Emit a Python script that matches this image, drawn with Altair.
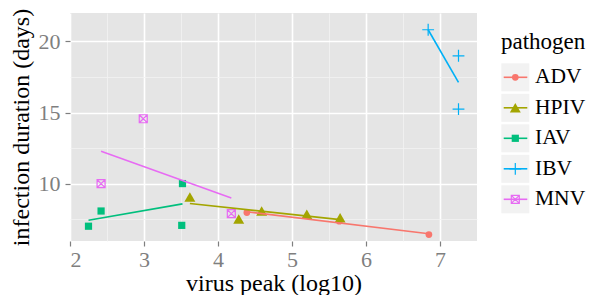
import altair as alt
import pandas as pd

# ---- data ----
pathogens = ["ADV", "HPIV", "IAV", "IBV", "MNV"]
colors = ["#F8766D", "#A3A500", "#00BF7D", "#00B0F6", "#E76BF3"]

adv_x = [4.39, 5.64, 6.85]
adv_y = [7.96, 7.35, 6.41]
hpiv_x = [3.62, 4.28, 4.59, 5.20, 5.65]
hpiv_y = [9.06, 7.50, 8.07, 7.84, 7.60]
iav_x = [2.25, 2.42, 3.51, 3.52]
iav_y = [7.00, 8.07, 7.06, 10.00]
ibv_x = [6.84, 7.25, 7.25]
ibv_y = [20.82, 18.99, 15.24]
mnv_x = [2.42, 2.99, 4.18]
mnv_y = [10.00, 14.56, 7.89]

x_ticks = [2, 2.5, 3, 3.5, 4, 4.5, 5, 5.5, 6, 6.5, 7]
y_ticks = [7.5, 10, 12.5, 15, 17.5, 20]
x_title = "virus peak (log10)"
y_title = "infection duration (days)"
legend_title = "pathogen"

series = [(adv_x, adv_y), (hpiv_x, hpiv_y), (iav_x, iav_y), (ibv_x, ibv_y), (mnv_x, mnv_y)]
rows = []
for name, (xs, ys) in zip(pathogens, series):
    for xv, yv in zip(xs, ys):
        rows.append({"pathogen": name, "peak": xv, "duration": yv})
df = pd.DataFrame(rows)

FONT = "Liberation Serif"
plus_path = "M-1,0H1M0,-1V1"
boxx_path = "M-1,-1H1V1H-1ZM-1,-1L1,1M-1,1L1,-1"
# marker style per pathogen: (shape, size, filled)
styles = [
    ("circle", 45, True),
    ("triangle-up", 120, True),
    ("square", 52, True),
    (plus_path, 140, False),
    (boxx_path, 64, False),
]

color_enc = alt.Color("pathogen:N", scale=alt.Scale(domain=pathogens, range=colors), legend=None)

axis_common = dict(
    labelFont=FONT, titleFont=FONT, labelFontSize=22, titleFontSize=24,
    labelColor="#7F7F7F", tickColor="#7F7F7F", tickSize=5, tickWidth=1.2,
    titleColor="black", titleFontWeight="normal", domain=False,
)

x_enc = alt.X(
    "peak:Q",
    title=x_title,
    scale=alt.Scale(domain=[2, 7.5], nice=False, zero=False),
    axis=alt.Axis(
        values=x_ticks,
        labelExpr="datum.value % 1 === 0 ? format(datum.value, 'd') : ''",
        gridColor={"condition": {"test": "datum.value % 1 === 0", "value": "#FFFFFF"}, "value": "#F2F2F2"},
        gridWidth={"condition": {"test": "datum.value % 1 === 0", "value": 1.6}, "value": 0.8},
        tickOpacity={"condition": {"test": "datum.value % 1 === 0", "value": 1}, "value": 0},
        labelPadding=3,
        titlePadding=1,
        **axis_common,
    ),
)
y_enc = alt.Y(
    "duration:Q",
    title=y_title,
    scale=alt.Scale(domain=[5.96, 22.0], nice=False, zero=False),
    axis=alt.Axis(
        values=y_ticks,
        labelExpr="datum.value % 5 === 0 ? format(datum.value, 'd') : ''",
        gridColor={"condition": {"test": "datum.value % 5 === 0", "value": "#FFFFFF"}, "value": "#F2F2F2"},
        gridWidth={"condition": {"test": "datum.value % 5 === 0", "value": 1.6}, "value": 0.8},
        tickOpacity={"condition": {"test": "datum.value % 5 === 0", "value": 1}, "value": 0},
        labelPadding=5,
        titlePadding=5,
        **axis_common,
    ),
)

base = alt.Chart(df)
point_layers = []
for name, (shp, sz, fl) in zip(pathogens, styles):
    point_layers.append(
        base.transform_filter(alt.datum.pathogen == name).mark_point(
            shape=shp, size=sz, filled=fl, opacity=1, strokeWidth=1.2
        ).encode(x=x_enc, y=y_enc, color=color_enc)
    )
lines = base.transform_regression(
    "peak", "duration", groupby=["pathogen"]
).mark_line(strokeWidth=1.6).encode(x=x_enc, y=y_enc, color=color_enc)

main = alt.layer(*point_layers, lines).properties(
    width=407, height=228, view=alt.ViewBackground(fill="#E5E5E5", stroke=None)
)

# ---- custom ggplot-like legend ----
leg_df = pd.DataFrame({"pathogen": pathogens})
ly = alt.Y("pathogen:N", scale=alt.Scale(type="point", domain=pathogens, range=[64.3, 186.3], padding=0), axis=None)
leg_base = alt.Chart(leg_df)
key_bg = leg_base.mark_square(size=784, color="#F2F2F2", opacity=1).encode(x=alt.value(14.3), y=ly)
key_line = leg_base.mark_rule(strokeWidth=1.6).encode(x=alt.value(2.7), x2=alt.value(26.3), y=ly, color=color_enc)
key_pts = []
for name, (shp, sz, fl) in zip(pathogens, styles):
    key_pts.append(
        leg_base.transform_filter(alt.datum.pathogen == name).mark_point(
            shape=shp, size=sz, filled=fl, opacity=1, strokeWidth=1.2
        ).encode(x=alt.value(14.3), y=ly, color=color_enc)
    )
key_text = leg_base.mark_text(align="left", baseline="middle", fontSize=21.5, font=FONT, color="black").encode(
    x=alt.value(34), y=ly, text="pathogen:N"
)
leg_title = alt.Chart(pd.DataFrame({"t": [legend_title]})).mark_text(
    align="left", baseline="alphabetic", fontSize=23, font=FONT, color="black"
).encode(x=alt.value(0), y=alt.value(35.5), text="t:N")

legend = alt.layer(key_bg, key_line, *key_pts, key_text, leg_title).properties(
    width=60, height=228, view=alt.ViewBackground(fill=None, stroke=None)
)

chart = alt.hconcat(main, legend, spacing=24).resolve_scale(
    color="independent"
).configure(
    padding={"left": 0, "top": 0, "right": 0, "bottom": 0},
    background="white",
).configure_view(stroke=None)

chart.save("out.html", embed_options={"renderer": "svg", "actions": False})
